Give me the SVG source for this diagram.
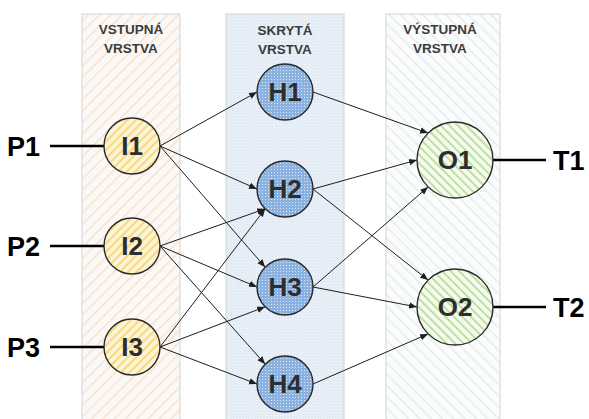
<svg xmlns="http://www.w3.org/2000/svg" width="589" height="419" viewBox="0 0 589 419">
  <style>
    .hdr { font-family: "Liberation Sans", Arial, sans-serif; font-weight: bold; font-size: 13.5px; fill: #3c3c3c; text-anchor: middle; }
    .lbl { font-family: "Liberation Sans", Arial, sans-serif; font-weight: bold; font-size: 26px; fill: #2e2e2e; text-anchor: middle; }
    .io { font-family: "Liberation Sans", Arial, sans-serif; font-weight: bold; font-size: 27px; fill: #000000; }
    .col { stroke: #d4d4d4; stroke-width: 1; }
    .node { stroke: #2a2a2a; stroke-width: 1.4; }
    .edge { stroke: #1e1e1e; stroke-width: 1; fill: none; marker-end: url(#arr); }
    .term { stroke: #000000; stroke-width: 2.6; }
  </style>
  <defs>
    <marker id="arr" viewBox="0 0 10 10" refX="10" refY="5" markerWidth="8" markerHeight="8" markerUnits="userSpaceOnUse" orient="auto">
      <path d="M0,1 L10,5 L0,9 z" fill="#1e1e1e"/>
    </marker>
    <!-- column backgrounds -->
    <pattern id="colIn" width="8" height="8" patternUnits="userSpaceOnUse" patternTransform="rotate(45)">
      <rect width="8" height="8" fill="#fbf8f5"/>
      <rect width="1.5" height="8" fill="#f6e2d2"/>
    </pattern>
    <pattern id="colHid" width="3" height="3" patternUnits="userSpaceOnUse">
      <rect width="3" height="3" fill="#e4ecf5"/>
      <rect x="1" y="1" width="1" height="1" fill="#f3f7fb"/>
    </pattern>
    <pattern id="colOut" width="8" height="8" patternUnits="userSpaceOnUse" patternTransform="rotate(-45)">
      <rect width="8" height="8" fill="#fbfcfc"/>
      <rect width="1.5" height="8" fill="#e6ebee"/>
    </pattern>
    <!-- node fills -->
    <pattern id="fillIn" width="6" height="6" patternUnits="userSpaceOnUse" patternTransform="rotate(45)">
      <rect width="6" height="6" fill="#fdf4d6"/>
      <rect width="1.8" height="6" fill="#f6d676"/>
    </pattern>
    <pattern id="fillHid" width="3" height="3" patternUnits="userSpaceOnUse">
      <rect width="3" height="3" fill="#8ab1e0"/>
      <rect x="1" y="1" width="1" height="1" fill="#dce8f6"/>
    </pattern>
    <pattern id="fillOut" width="6" height="6" patternUnits="userSpaceOnUse" patternTransform="rotate(-45)">
      <rect width="6" height="6" fill="#f6fbf1"/>
      <rect width="1.8" height="6" fill="#b9de97"/>
    </pattern>
  </defs>

  <!-- layer columns -->
  <g id="layer-input">
    <rect class="col" x="82" y="14" width="98" height="410" fill="url(#colIn)"/>
    <text class="hdr" x="131" y="34">VSTUPNÁ</text>
    <text class="hdr" x="131" y="53">VRSTVA</text>
  </g>
  <g id="layer-hidden">
    <rect class="col" x="226" y="14" width="118" height="410" fill="url(#colHid)"/>
    <text class="hdr" x="285" y="35">SKRYTÁ</text>
    <text class="hdr" x="285" y="54">VRSTVA</text>
  </g>
  <g id="layer-output">
    <rect class="col" x="386" y="14" width="114" height="410" fill="url(#colOut)"/>
    <text class="hdr" x="440" y="34">VÝSTUPNÁ</text>
    <text class="hdr" x="440" y="53">VRSTVA</text>
  </g>

  <!-- connectors -->
  <g id="connectors">
    <line class="term" x1="50" y1="146" x2="104" y2="146"/>
    <line class="term" x1="50" y1="246" x2="104" y2="246"/>
    <line class="term" x1="50" y1="347" x2="104" y2="347"/>
    <line class="term" x1="493" y1="160" x2="546" y2="160"/>
    <line class="term" x1="493" y1="307" x2="546" y2="307"/>

    <path class="edge" d="M160,146 L257,92"/>
    <path class="edge" d="M160,146 L257,189"/>
    <path class="edge" d="M160,146 L265.2,267.2"/>
    <path class="edge" d="M160,246 L265.2,208.8"/>
    <path class="edge" d="M160,246 L257,287"/>
    <path class="edge" d="M160,246 L265.2,364.2"/>
    <path class="edge" d="M160,347 L265.2,208.8"/>
    <path class="edge" d="M160,347 L265.2,306.8"/>
    <path class="edge" d="M160,347 L257,384"/>

    <path class="edge" d="M313,92 L428.1,133.1"/>
    <path class="edge" d="M313,189 L417,160"/>
    <path class="edge" d="M313,189 L428.1,280.1"/>
    <path class="edge" d="M313,287 L428.1,186.9"/>
    <path class="edge" d="M313,287 L417,307"/>
    <path class="edge" d="M313,384 L428.1,333.9"/>
  </g>

  <!-- terminal labels -->
  <g id="P1"><text class="io" x="7" y="156">P1</text></g>
  <g id="P2"><text class="io" x="7" y="256">P2</text></g>
  <g id="P3"><text class="io" x="7" y="357">P3</text></g>
  <g id="T1"><text class="io" x="553" y="170">T1</text></g>
  <g id="T2"><text class="io" x="553" y="317">T2</text></g>

  <!-- input nodes -->
  <g id="I1"><circle class="node" cx="132" cy="146" r="28" fill="url(#fillIn)"/><text class="lbl" x="132" y="155">I1</text></g>
  <g id="I2"><circle class="node" cx="132" cy="246" r="28" fill="url(#fillIn)"/><text class="lbl" x="132" y="255">I2</text></g>
  <g id="I3"><circle class="node" cx="132" cy="347" r="28" fill="url(#fillIn)"/><text class="lbl" x="132" y="356">I3</text></g>

  <!-- hidden nodes -->
  <g id="H1"><circle class="node" cx="285" cy="92" r="28" fill="url(#fillHid)"/><text class="lbl" x="285" y="101">H1</text></g>
  <g id="H2"><circle class="node" cx="285" cy="189" r="28" fill="url(#fillHid)"/><text class="lbl" x="285" y="198">H2</text></g>
  <g id="H3"><circle class="node" cx="285" cy="287" r="28" fill="url(#fillHid)"/><text class="lbl" x="285" y="296">H3</text></g>
  <g id="H4"><circle class="node" cx="285" cy="384" r="28" fill="url(#fillHid)"/><text class="lbl" x="285" y="393">H4</text></g>

  <!-- output nodes -->
  <g id="O1"><circle class="node" cx="455" cy="160" r="38" fill="url(#fillOut)"/><text class="lbl" x="455" y="169">O1</text></g>
  <g id="O2"><circle class="node" cx="455" cy="307" r="38" fill="url(#fillOut)"/><text class="lbl" x="455" y="316">O2</text></g>
</svg>
